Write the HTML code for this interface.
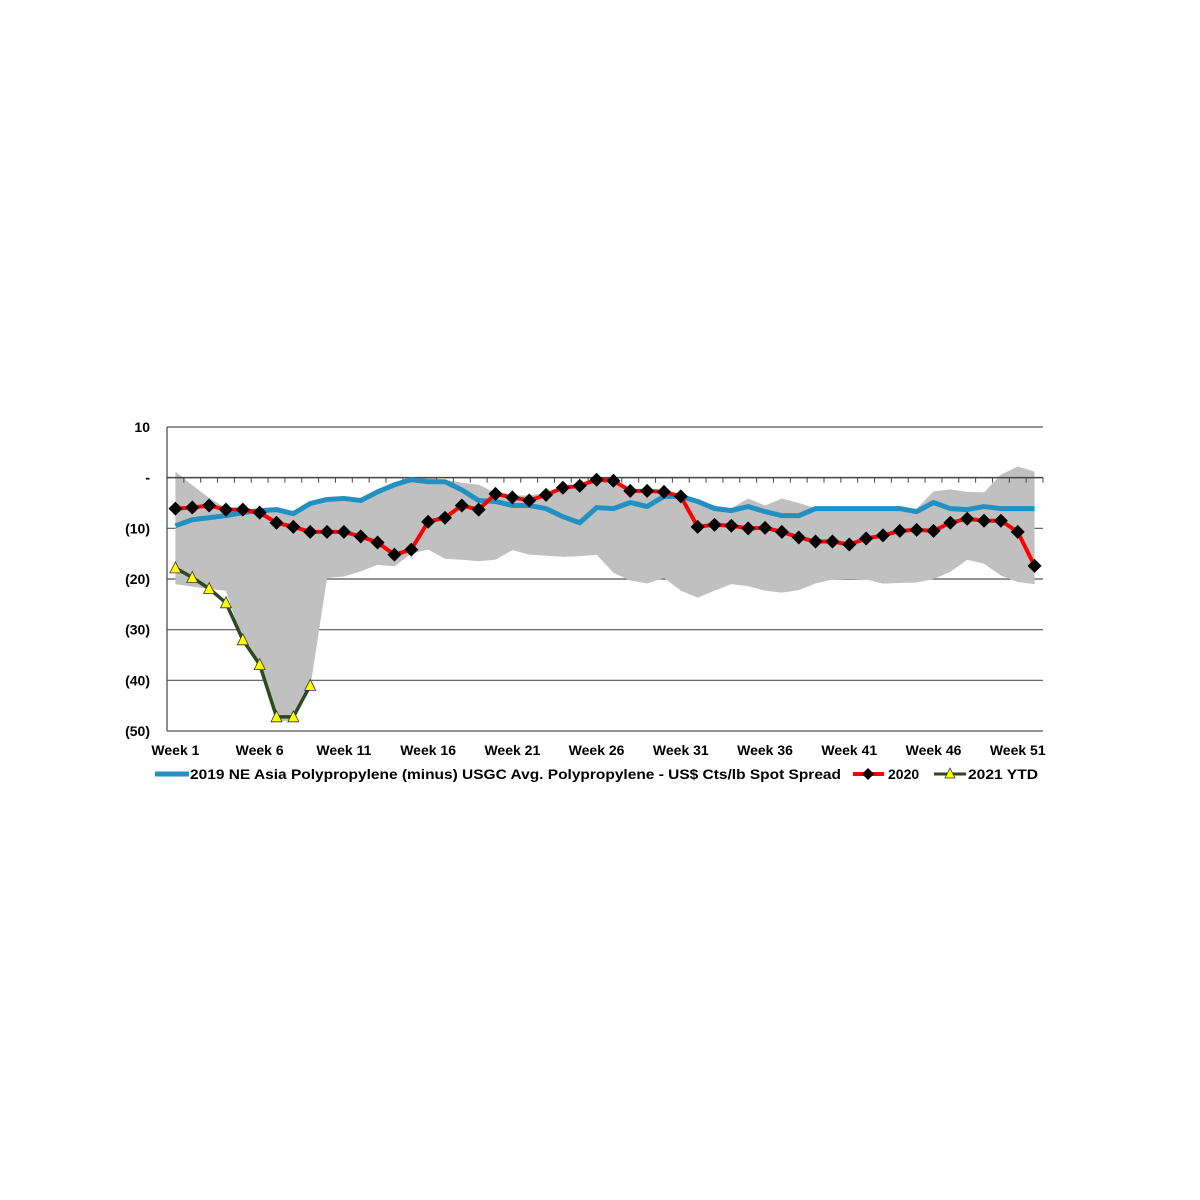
<!DOCTYPE html>
<html><head><meta charset="utf-8"><style>
html,body{margin:0;padding:0;background:#fff;}
svg{display:block;font-family:"Liberation Sans",Arial,sans-serif;font-weight:bold;}
</style></head><body>
<svg id="chart" width="1200" height="1200" viewBox="0 0 1200 1200" xmlns="http://www.w3.org/2000/svg">
<g id="grid"></g>
<g id="band"></g>
<g id="axes"></g>
<g id="series"></g>
<g id="legend">
  <line x1="155" y1="774" x2="189" y2="774" stroke="#2290c2" stroke-width="5"/>
  <text x="190" y="779" font-size="14" textLength="651" lengthAdjust="spacingAndGlyphs" fill="#000">2019 NE Asia Polypropylene (minus) USGC Avg. Polypropylene - US$ Cts/lb Spot Spread</text>
  <line x1="853" y1="774" x2="884" y2="774" stroke="#ff0000" stroke-width="4"/>
  <path d="M868 768 L874 774 L868 780 L862 774 Z" fill="#000"/>
  <text x="888" y="779" font-size="14" fill="#000">2020</text>
  <line x1="934" y1="774" x2="966" y2="774" stroke="#2d4a1e" stroke-width="3"/>
  <path d="M950 768 L955 778 L945 778 Z" fill="#ffff00" stroke="#333" stroke-width="0.8"/>
  <text x="968" y="779" font-size="14" textLength="70" lengthAdjust="spacingAndGlyphs" fill="#000">2021 YTD</text>
</g>
</svg>
<script>
const weeks = Array.from({length:52},(_,i)=>'Week '+(i+1));
const yTicks = [10,0,-10,-20,-30,-40,-50];
const yTickLabels = ['10','-','(10)','(20)','(30)','(40)','(50)'];
const s2019 = [-9.5,-8.3,-7.9,-7.5,-6.9,-6.5,-6.3,-7.1,-5.1,-4.3,-4.1,-4.5,-2.8,-1.4,-0.4,-0.8,-0.8,-2.4,-4.5,-4.7,-5.5,-5.5,-6.1,-7.7,-8.9,-5.9,-6.1,-4.9,-5.7,-3.7,-3.7,-4.7,-6.1,-6.5,-5.7,-6.7,-7.5,-7.5,-6.1,-6.1,-6.1,-6.1,-6.1,-6.1,-6.7,-4.9,-6.1,-6.3,-5.7,-6.1,-6.1,-6.1];
const s2020 = [-6.1,-5.9,-5.5,-6.3,-6.3,-6.9,-8.9,-9.7,-10.7,-10.7,-10.7,-11.6,-12.8,-15.2,-14.2,-8.7,-7.9,-5.5,-6.3,-3.2,-3.9,-4.5,-3.4,-2.0,-1.6,-0.4,-0.6,-2.6,-2.6,-2.8,-3.7,-9.7,-9.3,-9.5,-10.0,-9.9,-10.7,-11.8,-12.6,-12.6,-13.2,-12.0,-11.4,-10.5,-10.3,-10.5,-8.9,-8.1,-8.5,-8.5,-10.7,-17.4];
const s2021 = [-17.8,-19.7,-21.9,-24.7,-32.0,-36.9,-47.2,-47.2,-41.0];
const bandHigh = [1.2,-1.5,-4,-6,-6.5,-6.5,-6.3,-7,-5,-4.3,-4.1,-4.5,-2.8,-1.4,-0.4,0,-0.4,-1,-1.4,-3,-3.5,-3.5,-3,-2,-1.5,-0.3,-0.5,-2.5,-2.5,-2.5,-3.5,-4.5,-5.5,-6,-4.1,-5.5,-4.1,-5,-6,-6.1,-6.1,-6.1,-6.1,-6.1,-6.1,-2.7,-2.3,-2.8,-2.9,0.6,2.2,1.2];
const bandLow = [-21,-21.5,-22,-22.3,-32.5,-37.5,-48,-48,-41.5,-19.8,-19.5,-18.5,-17.2,-17.5,-15,-14.2,-16,-16.2,-16.5,-16.2,-14.3,-15.2,-15.4,-15.6,-15.5,-15.2,-18.8,-20.3,-20.9,-19.8,-22.3,-23.7,-22.3,-21,-21.4,-22.3,-22.7,-22.2,-20.9,-20.1,-20,-20.1,-20.9,-20.8,-20.7,-20,-18.6,-16.2,-17,-19.3,-20.6,-21];

const NS='http://www.w3.org/2000/svg';
const X0=167, X1=1043, Y_TOP=427, Y_BOT=731, VMAX=10, VMIN=-50;
const step=(X1-X0)/weeks.length;
const xs=i=>X0+step*(i+0.5);
const ys=v=>Y_TOP+(VMAX-v)*(Y_BOT-Y_TOP)/(VMAX-VMIN);
function mk(tag,attrs,parent){const e=document.createElementNS(NS,tag);for(const k in attrs)e.setAttribute(k,attrs[k]);parent.appendChild(e);return e;}
const grid=document.getElementById('grid'),band=document.getElementById('band'),axes=document.getElementById('axes'),series=document.getElementById('series');

yTicks.forEach((v,i)=>{
  const y=ys(v);
  if(v!==0){
    const l=mk('line',{x1:X0,x2:X1,y1:y,y2:y,stroke:'#555','stroke-width':1.2},grid);
    
    
  }
  const t=mk('text',{x:150,y:y+5,'text-anchor':'end','font-size':14,fill:'#000'},axes);
  t.textContent=yTickLabels[i];
  
  
});

let pts=bandHigh.map((v,i)=>xs(i)+','+ys(v));
for(let i=bandLow.length-1;i>=0;i--)pts.push(xs(i)+','+ys(bandLow[i]));
const poly=mk('polygon',{points:pts.join(' '),fill:'#c0c0c0'},band);



const yl=mk('line',{x1:X0,x2:X0,y1:Y_TOP,y2:Y_BOT,stroke:'#444','stroke-width':1.2},axes);


const zl=mk('line',{x1:X0,x2:X1,y1:ys(0),y2:ys(0),stroke:'#444','stroke-width':1.5},axes);


for(let i=0;i<=weeks.length;i++){
  const x=X0+step*i;
  const tk=mk('line',{x1:x,x2:x,y1:ys(0),y2:ys(0)+5,stroke:'#444','stroke-width':1},axes);
  
  
}
weeks.forEach((w,i)=>{
  if(i%5!==0)return;
  const t=mk('text',{x:xs(i),y:755,'text-anchor':'middle','font-size':14,fill:'#000'},axes);
  t.textContent=w;
  
  
});

const p19=mk('polyline',{points:s2019.map((v,i)=>xs(i)+','+ys(v)).join(' '),fill:'none',stroke:'#2290c2','stroke-width':5,'stroke-linejoin':'round'},series);



const p20=mk('polyline',{points:s2020.map((v,i)=>xs(i)+','+ys(v)).join(' '),fill:'none',stroke:'#ff0000','stroke-width':4,'stroke-linejoin':'round'},series);


s2020.forEach((v,i)=>{
  const x=xs(i),y=ys(v);
  const d=mk('path',{d:`M${x} ${y-7} L${x+7} ${y} L${x} ${y+7} L${x-7} ${y} Z`,fill:'#000'},series);
  
  
});

const p21=mk('polyline',{points:s2021.map((v,i)=>xs(i)+','+ys(v)).join(' '),fill:'none',stroke:'#2d4a1e','stroke-width':3.5,'stroke-linejoin':'round'},series);


s2021.forEach((v,i)=>{
  const x=xs(i),y=ys(v);
  const t=mk('path',{d:`M${x} ${y-6} L${x+5.5} ${y+5} L${x-5.5} ${y+5} Z`,fill:'#ffff00',stroke:'#333','stroke-width':0.8},series);
  
  
});
</script>
</body></html>
